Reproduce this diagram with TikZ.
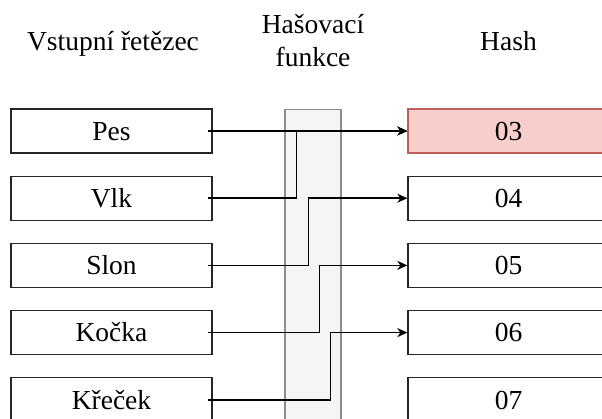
\documentclass[tikz,border=0pt]{standalone}
\usepackage{fontspec}
\setmainfont{Liberation Serif}
\usetikzlibrary{arrows.meta}
\definecolor{colfill}{HTML}{F5F5F5}
\definecolor{colline}{HTML}{8C8C8C}
\definecolor{hitfill}{HTML}{F8CECC}
\definecolor{hitline}{HTML}{C0605A}
\begin{document}
\begin{tikzpicture}[x=1pt,y=-1pt,
  cell/.style={draw=black!85, line width=1.3pt, fill=white, inner sep=0pt,
    minimum width=201pt, minimum height=44pt,
    text height=18.5pt, text depth=0pt, font=\fontsize{27.5}{31}\selectfont},
  hit/.style={cell, draw=hitline, fill=hitfill},
  head/.style={inner sep=0pt, font=\fontsize{27.5}{33}\selectfont},
  conn/.style={draw=black, line width=1.4pt,
    -{Stealth[length=10pt,width=9pt,inset=3pt]}}]
\useasboundingbox (0,0) rectangle (602,419);
\clip (0,0) rectangle (602,419);

% column headings
\node[head, anchor=base] (hin) at (113,51) {Vstupní řetězec};
\node[head, anchor=south, align=center] (hfn) at (313,67) {Hašovací\\funkce};
\node[head, anchor=base] (hout) at (508.5,51) {Hash};

% hash function band
\node[draw=colline, fill=colfill, line width=1.2pt, inner sep=0pt,
  minimum width=56pt, minimum height=330pt, anchor=north] (band) at (313,109) {};

% input strings
\node[cell] (k1) at (111.5,131) {Pes};
\node[cell] (k2) at (111.5,198.2) {Vlk};
\node[cell] (k3) at (111.5,265.4) {Slon};
\node[cell] (k4) at (111.5,332.6) {Kočka};
\node[cell] (k5) at (111.5,399.8) {Křeček};

% hash values
\node[hit]  (h1) at (508.5,131) {03};
\node[cell] (h2) at (508.5,198.2) {04};
\node[cell] (h3) at (508.5,265.4) {05};
\node[cell] (h4) at (508.5,332.6) {06};
\node[cell] (h5) at (508.5,399.8) {07};

% mappings (Pes and Vlk collide on 03)
\draw[conn] ([xshift=-5pt]k1.east) -- (h1.west);
\draw[conn] ([xshift=-5pt]k2.east) -- ++(89,0) |- (h1.west);
\draw[conn] ([xshift=-5pt]k3.east) -- ++(101,0) |- (h2.west);
\draw[conn] ([xshift=-5pt]k4.east) -- ++(112,0) |- (h3.west);
\draw[conn] ([xshift=-5pt]k5.east) -- ++(123,0) |- (h4.west);
\end{tikzpicture}
\end{document}
